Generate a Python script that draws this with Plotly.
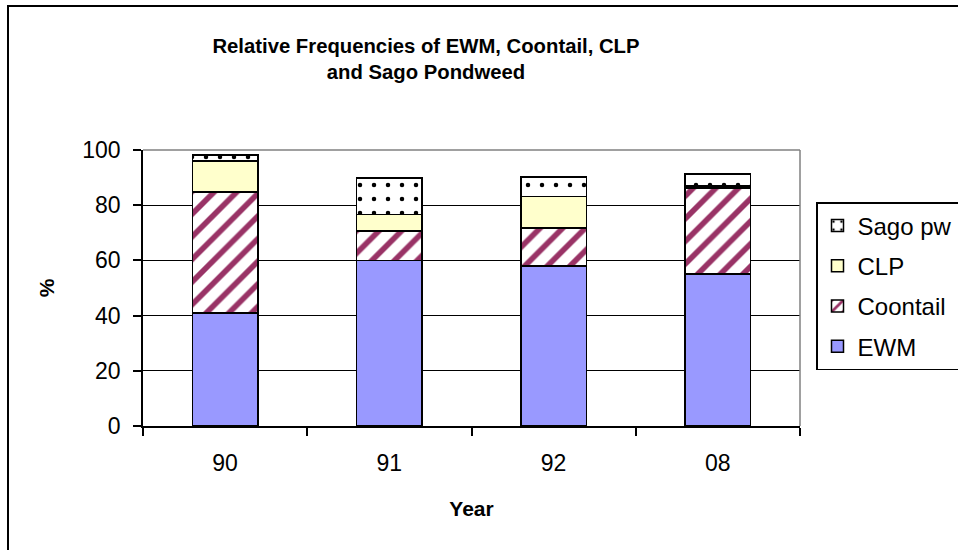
import plotly.graph_objects as go

years = ["90", "91", "92", "08"]
ewm = [41.0, 60.0, 58.0, 55.0]
coontail = [43.7, 10.6, 13.8, 31.3]
clp = [11.4, 6.0, 11.4, 0.7]
sago = [2.1, 13.2, 7.0, 4.3]

FONT = "Liberation Sans, Arial, sans-serif"
W, H = 958, 550
L, R, T, B = 143, 158, 150, 124
pw, ph = W - L - R, H - T - B

def px_x(x):
    return (x - L) / pw

def px_y(y):
    return (H - B - y) / ph

line = dict(color="black", width=1.5)
fig = go.Figure()
fig.add_trace(go.Bar(name="EWM", x=years, y=ewm, marker=dict(color="#9999FF", line=line),
                     legendgroup="a", legendrank=4))
fig.add_trace(go.Bar(name="Coontail", x=years, y=coontail,
                     marker=dict(color="white", line=line,
                                 pattern=dict(shape="/", fgcolor="#993366", bgcolor="white", size=16, solidity=0.35, fillmode="replace")),
                     legendgroup="b", legendrank=3))
fig.add_trace(go.Bar(name="CLP", x=years, y=clp, marker=dict(color="#FFFFCC", line=line),
                     legendgroup="c", legendrank=2))
fig.add_trace(go.Bar(name="Sago pw", x=years, y=sago,
                     marker=dict(color="white", line=line,
                                 pattern=dict(shape=".", fgcolor="black", bgcolor="white", size=14, solidity=0.08, fillmode="replace")),
                     legendgroup="d", legendrank=1))

shapes = [
    dict(type="rect", xref="paper", yref="paper", x0=px_x(8), x1=px_x(975), y0=px_y(560), y1=px_y(6),
         line=dict(color="black", width=2), fillcolor="rgba(0,0,0,0)", layer="below"),
    dict(type="line", xref="paper", yref="paper", x0=0, x1=1, y0=1, y1=1, line=dict(color="#808080", width=1.5)),
    dict(type="line", xref="paper", yref="paper", x0=1, x1=1, y0=0, y1=1, line=dict(color="#808080", width=1.5)),
]

fig.update_layout(
    width=W, height=H,
    margin=dict(l=L, r=R, t=T, b=B, autoexpand=False),
    paper_bgcolor="white", plot_bgcolor="white",
    barmode="stack", bargap=0.6,
    font=dict(family=FONT, size=23, color="black"),
    title=dict(text="<b>Relative Frequencies of EWM, Coontail, CLP<br>and Sago Pondweed</b>",
               x=426 / W, xanchor="center", y=1 - 53 / H, yanchor="top",
               font=dict(family=FONT, size=20.3, color="black")),
    xaxis=dict(type="category", showline=True, linecolor="black", linewidth=1.5,
               ticks="outside", ticklen=8, tickcolor="black", tickwidth=1.5, tickson="boundaries",
               showgrid=False, ticklabelstandoff=16,
               title=dict(text="<b>Year</b>", standoff=26, font=dict(size=21)),
               tickfont=dict(size=23)),
    yaxis=dict(range=[0, 100], dtick=20, showline=True, linecolor="black", linewidth=1.5,
               ticks="outside", ticklen=8, tickcolor="black", tickwidth=1.5,
               showgrid=True, gridcolor="black", gridwidth=1, zeroline=False,
               ticklabelstandoff=8,
               title=dict(text="<b>%</b>", standoff=22, font=dict(size=21)), tickfont=dict(size=23)),
    legend=dict(x=px_x(816), xanchor="left", y=px_y(202), yanchor="top",
                bordercolor="black", borderwidth=1.5, bgcolor="white",
                traceorder="grouped", tracegroupgap=6,
                font=dict(family=FONT, size=24)),
    shapes=shapes,
)

fig.write_html("out.html", config={"displayModeBar": False},
               post_script="document.body.style.margin='0px';")
